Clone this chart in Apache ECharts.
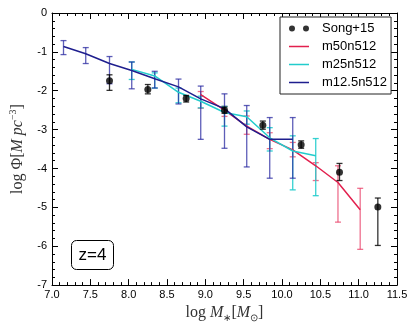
<!DOCTYPE html>
<html>
<head>
<meta charset="utf-8">
<script src="https://cdn.jsdelivr.net/npm/echarts@6/dist/echarts.min.js"></script>
<style>
  html, body { margin: 0; padding: 0; background: #fff; }
  #chart { width: 415px; height: 328px; }
</style>
</head>
<body>
<div id="chart"></div>
<script>
// Song+15 observations
const songX = [7.75, 8.25, 8.75, 9.25, 9.75, 10.25, 10.75, 11.25]
const songY = [-1.74, -1.97, -2.20, -2.50, -2.89, -3.39, -4.10, -4.99]
const songLo = [-1.99, -2.08, -2.29, -2.58, -2.99, -3.48, -4.31, -5.98]
const songHi = [-1.59, -1.84, -2.12, -2.42, -2.78, -3.29, -3.87, -4.76]

// m50n512
const m50X = [8.94, 9.25, 9.54, 9.84, 10.14, 10.44, 10.73, 11.02]
const m50Y = [-2.10, -2.50, -2.91, -3.25, -3.52, -3.93, -4.36, -5.06]
const m50Lo = [-2.45, -2.66, -3.12, -3.49, -3.70, -4.31, -5.38, -6.08]
const m50Hi = [-2.02, -2.40, -2.65, -3.08, -3.33, -3.85, -3.93, -4.51]

// m25n512
const m25X = [8.04, 8.34, 8.65, 8.94, 9.25, 9.54, 9.84, 10.14, 10.44]
const m25Y = [-1.45, -1.62, -2.04, -2.27, -2.56, -2.67, -3.21, -3.55, -3.67]
const m25Lo = [-1.71, -1.93, -2.31, -2.44, -2.91, -2.86, -3.55, -4.55, -4.70]
const m25Hi = [-1.26, -1.54, -1.93, -2.14, -2.40, -2.52, -2.95, -3.16, -3.23]

// m12.5n512
const m12X = [7.15, 7.44, 7.75, 8.04, 8.34, 8.65, 8.94, 9.25, 9.54, 9.84, 10.14]
const m12Y = [-0.86, -1.05, -1.30, -1.48, -1.69, -1.90, -2.21, -2.46, -2.93, -3.25, -3.25]
const m12Lo = [-1.07, -1.30, -1.82, -1.95, -1.93, -2.34, -3.25, -3.48, -3.96, -4.25, -4.25]
const m12Hi = [-0.71, -0.89, -1.12, -1.26, -1.50, -1.70, -1.88, -2.08, -2.38, -2.69, -2.69]

const zip = (a, b) => a.map((v, i) => [v, b[i]])
const zip3 = (a, b, c) => a.map((v, i) => [v, b[i], c[i]])

function errSeries(name, xs, lo, hi, color, z) {
    return {
        name: name,
        type: 'custom',
        z: z,
        silent: true,
        data: zip3(xs, lo, hi),
        encode: { x: 0, y: [1, 2] },
        renderItem: function (params, api) {
            const x = api.value(0)
            const top = api.coord([x, api.value(2)])
            const bot = api.coord([x, api.value(1)])
            const w = 3
            const st = { stroke: color, lineWidth: 1.3 }
            return {
                type: 'group',
                children: [
                    { type: 'line', shape: { x1: top[0], y1: top[1], x2: bot[0], y2: bot[1] }, style: st },
                    { type: 'line', shape: { x1: top[0] - w, y1: top[1], x2: top[0] + w, y2: top[1] }, style: st },
                    { type: 'line', shape: { x1: bot[0] - w, y1: bot[1], x2: bot[0] + w, y2: bot[1] }, style: st }
                ]
            }
        }
    }
}

const sans = 'Liberation Sans'
const serif = 'Liberation Serif'
// legend icons: two dots for the points, a thin bar for the lines
const dotsIcon = 'path://M0,3a3,3 0 1,0 6,0a3,3 0 1,0 -6,0ZM14,3a3,3 0 1,0 6,0a3,3 0 1,0 -6,0Z'
const lineIcon = 'path://M0,0L0.01,0ZM0,2.3H20V3.7H0ZM20,6L19.99,6Z'

const baseX = {
    type: 'value', min: 7, max: 11.5, interval: 0.5,
    axisLine: { onZero: false, lineStyle: { color: '#000', width: 1 } },
    axisTick: { inside: true, length: 6, lineStyle: { color: '#000' } },
    minorTick: { show: true, splitNumber: 5, length: 3, lineStyle: { color: '#000' } },
    splitLine: { show: false }
}
const baseY = {
    type: 'value', min: -7, max: 0, interval: 1,
    axisLine: { onZero: false, lineStyle: { color: '#000', width: 1 } },
    axisTick: { inside: true, length: 6, lineStyle: { color: '#000' } },
    minorTick: { show: true, splitNumber: 5, length: 3, lineStyle: { color: '#000' } },
    splitLine: { show: false }
}

const nameRich = {
    r: { fontFamily: serif, fontSize: 16, color: '#333', lineHeight: 20 },
    i: { fontFamily: serif, fontSize: 16, fontStyle: 'italic', color: '#333', lineHeight: 20 },
    s: { fontFamily: serif, fontSize: 10, color: '#333', verticalAlign: 'top', lineHeight: 20 },
    b: { fontFamily: serif, fontSize: 10, color: '#333', verticalAlign: 'bottom', lineHeight: 16 }
}

const chart = echarts.init(document.getElementById('chart'))
chart.setOption({
    animation: false,
    grid: { left: 41, right: 18, top: 13, bottom: 41 },
    xAxis: [
        Object.assign({}, baseX, {
            position: 'bottom',
            axisLabel: { color: '#000', fontFamily: sans, fontSize: 11, margin: 4, formatter: v => v.toFixed(1) },
            name: '{r|log }{i|M}{b|∗}{r|[}{i|M}{b|⊙}{r|]}',
            nameLocation: 'middle', nameGap: 14,
            nameTextStyle: { rich: nameRich }
        }),
        Object.assign({}, baseX, { position: 'top', axisLabel: { show: false } })
    ],
    yAxis: [
        Object.assign({}, baseY, {
            position: 'left',
            axisLabel: { color: '#000', fontFamily: sans, fontSize: 11, margin: 5 },
            name: '{r|log Φ[}{i|M pc}{s|−3}{r|]}',
            nameLocation: 'middle', nameGap: 24, nameRotate: 90,
            nameTextStyle: { rich: nameRich }
        }),
        Object.assign({}, baseY, { position: 'right', axisLabel: { show: false } })
    ],
    legend: {
        left: 280, top: 17,
        orient: 'vertical',
        backgroundColor: '#fff',
        borderColor: '#222', borderWidth: 1, borderRadius: 0,
        padding: [5, 4, 5, 9],
        itemGap: 5, itemWidth: 20, itemHeight: 6,
        textStyle: { fontFamily: sans, fontSize: 13, color: '#000', padding: [0, 0, 0, 8] },
        data: [
            { name: 'Song+15', icon: dotsIcon },
            { name: 'm50n512', icon: lineIcon },
            { name: 'm25n512', icon: lineIcon },
            { name: 'm12.5n512', icon: lineIcon }
        ]
    },
    graphic: [{
        type: 'group', left: 71, top: 240,
        children: [
            { type: 'rect', shape: { x: 0, y: 0, width: 42, height: 29, r: 5 }, style: { fill: '#fff', stroke: '#000', lineWidth: 1 } },
            { type: 'text', x: 21, y: 15, style: { text: 'z=4', fontFamily: sans, fontSize: 17, fill: '#000', align: 'center', verticalAlign: 'middle' } }
        ]
    }],
    series: [
        errSeries('m50err', m50X, m50Lo, m50Hi, 'rgba(232,64,104,0.75)', 2),
        errSeries('m25err', m25X, m25Lo, m25Hi, 'rgba(32,204,204,0.9)', 2),
        errSeries('m12err', m12X, m12Lo, m12Hi, 'rgba(40,40,160,0.75)', 2),
        {
            name: 'm50n512', type: 'line', data: zip(m50X, m50Y), symbol: 'none', z: 3,
            lineStyle: { color: '#e2204e', width: 1.5 }, itemStyle: { color: '#e2204e' }
        },
        {
            name: 'm25n512', type: 'line', data: zip(m25X, m25Y), symbol: 'none', z: 3,
            lineStyle: { color: '#22cccc', width: 1.5 }, itemStyle: { color: '#22cccc' }
        },
        {
            name: 'm12.5n512', type: 'line', data: zip(m12X, m12Y), symbol: 'none', z: 3,
            lineStyle: { color: '#1e1e8e', width: 1.5 }, itemStyle: { color: '#1e1e8e' }
        },
        errSeries('songerr', songX, songLo, songHi, 'rgba(0,0,0,0.8)', 4),
        {
            name: 'Song+15', type: 'scatter', data: zip(songX, songY), symbol: 'circle', symbolSize: 7, z: 5,
            itemStyle: { color: '#000' }
        }
    ]
})
</script>
</body>
</html>
